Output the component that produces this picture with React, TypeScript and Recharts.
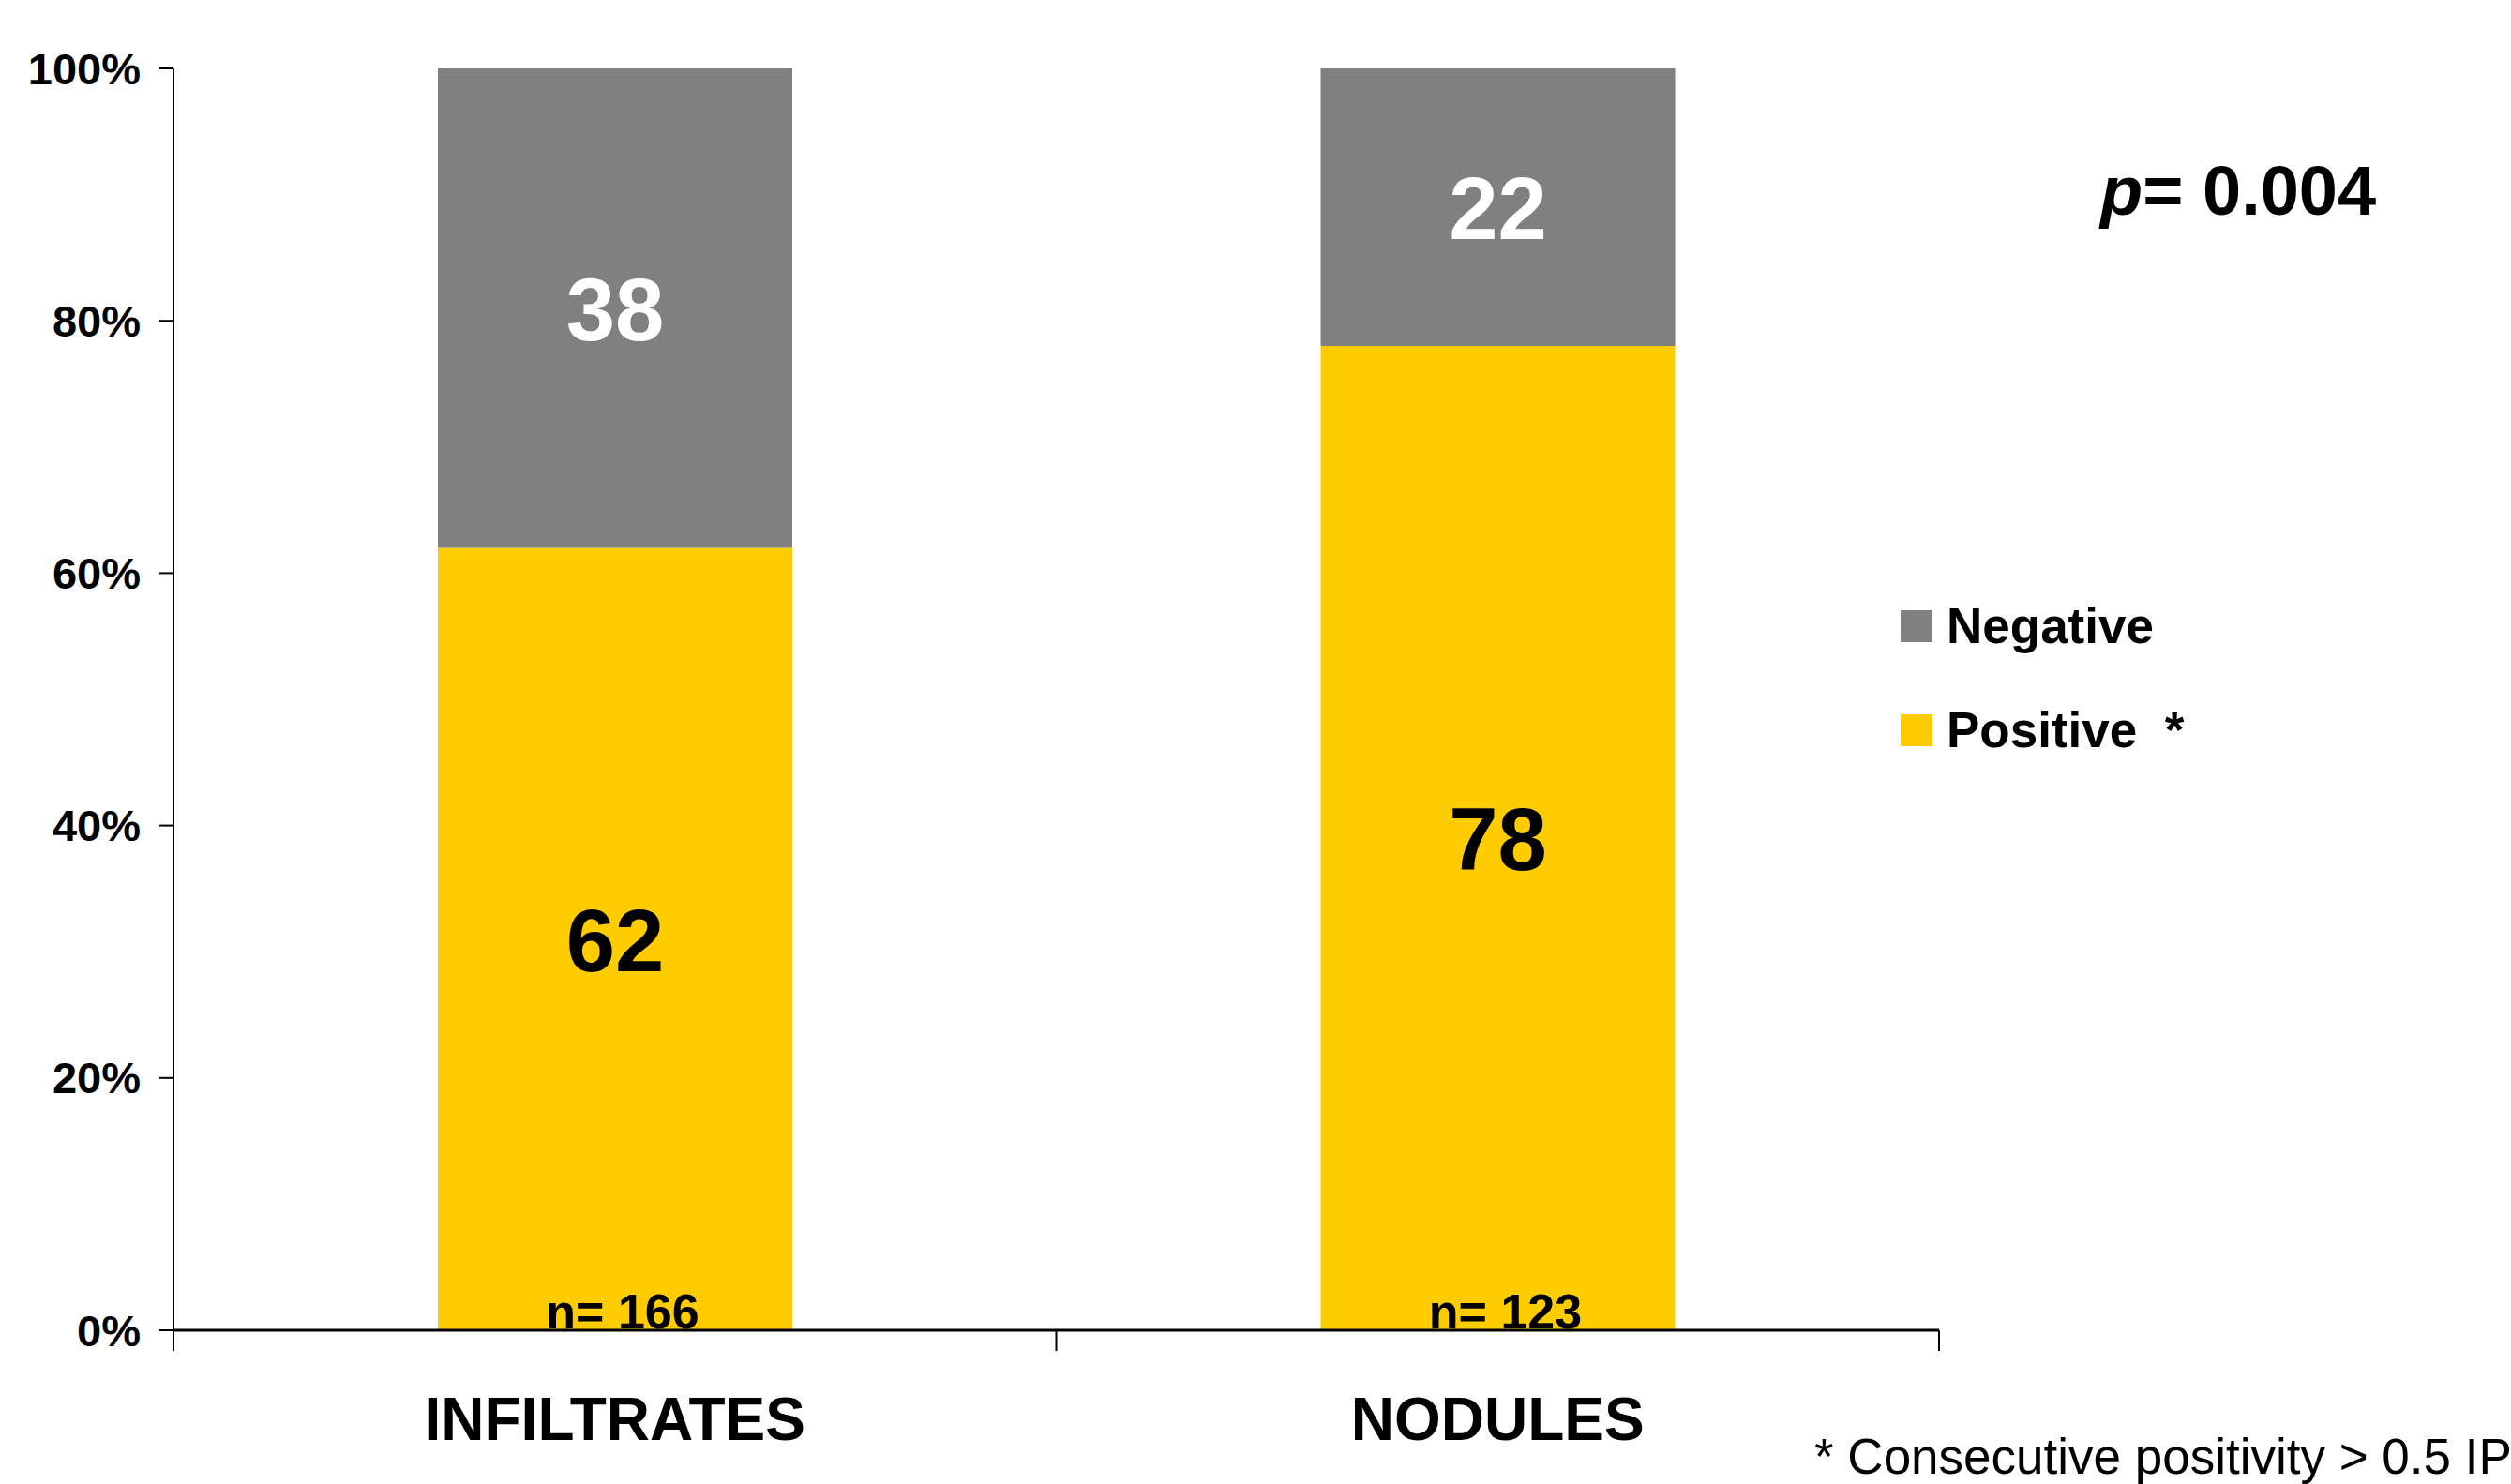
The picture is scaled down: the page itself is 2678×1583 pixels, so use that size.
import React from 'react';
import { BarChart, Bar, XAxis, YAxis, Legend, LabelList } from 'recharts';

const categories = ['INFILTRATES', 'NODULES'];
const positive = [62, 78];
const negative = [38, 22];
const sampleSizes = [166, 123];
const yTicks = [0, 20, 40, 60, 80, 100];

const data = categories.map((name, i) => ({
  name,
  positive: positive[i],
  negative: negative[i],
  n: sampleSizes[i],
}));

const FONT = '"Liberation Sans", Arial, Helvetica, sans-serif';
const GREY = '#808080';
const YELLOW = '#FFCC00';

// category label plus the tick marks on the band edges
const CategoryTick = (props: any) => {
  const { x, y, payload, index, width, visibleTicksCount } = props;
  const count = visibleTicksCount || categories.length;
  const band = (typeof width === 'number' && width > 0 ? width : 1883) / count;
  const left = x - band / 2;
  return (
    <g>
      <line x1={left} y1={y} x2={left} y2={y + 22} stroke="#000" strokeWidth={2} />
      {index === count - 1 && (
        <line x1={left + band} y1={y} x2={left + band} y2={y + 22} stroke="#000" strokeWidth={2} />
      )}
      <text
        x={x}
        y={y + 117}
        textAnchor="middle"
        fontFamily={FONT}
        fontWeight="bold"
        fontSize={64}
        fill="#000"
      >
        {payload.value}
      </text>
    </g>
  );
};

const centerLabel = (color: string) => (props: any) => {
  const { x, y, width, height, value } = props;
  return (
    <text
      x={x + width / 2}
      y={y + height / 2}
      dy="0.36em"
      textAnchor="middle"
      fontFamily={FONT}
      fontWeight="bold"
      fontSize={94}
      fill={color}
    >
      {value}
    </text>
  );
};

const countLabel = (props: any) => {
  const { x, y, width, height, value } = props;
  return (
    <text
      x={x + width / 2 + 8}
      y={y + height - 2}
      textAnchor="middle"
      fontFamily={FONT}
      fontWeight="bold"
      fontSize={52}
      fill="#000"
    >
      {`n= ${value}`}
    </text>
  );
};

const LegendContent = (props: any) => {
  const items = [...(props.payload || [])].sort((a: any) => (a.value === 'Negative' ? -1 : 1));
  return (
    <div style={{ fontFamily: FONT }}>
      {items.map((entry: any) => (
        <div
          key={entry.value}
          style={{ display: 'flex', alignItems: 'center', height: 34, marginBottom: 77 }}
        >
          <span style={{ display: 'inline-block', width: 34, height: 34, background: entry.color }} />
          <span
            style={{
              marginLeft: 15,
              fontSize: 53,
              fontWeight: 'bold',
              lineHeight: '34px',
              color: '#000',
              whiteSpace: 'pre',
            }}
          >
            {entry.value}
          </span>
        </div>
      ))}
    </div>
  );
};

export default function App() {
  return (
    <div
      style={{
        position: 'absolute',
        left: 0,
        top: 0,
        width: 2678,
        height: 1583,
        background: '#fff',
        overflow: 'hidden',
        fontFamily: FONT,
      }}
    >
      <BarChart
        width={2678}
        height={1583}
        data={data}
        margin={{ top: 73, right: 610, left: 0, bottom: 0 }}
        barSize={378}
      >
        <XAxis
          dataKey="name"
          height={164}
          interval={0}
          axisLine={{ stroke: '#000', strokeWidth: 3 }}
          tickLine={false}
          tickSize={0}
          tickMargin={0}
          tick={<CategoryTick />}
        />
        <YAxis
          width={185}
          domain={[0, 100]}
          ticks={yTicks}
          interval={0}
          tickFormatter={(v) => `${v}%`}
          axisLine={{ stroke: '#000', strokeWidth: 2 }}
          tickLine={{ stroke: '#000', strokeWidth: 2 }}
          tickSize={15}
          tickMargin={20}
          tick={{ fill: '#000', fontSize: 47, fontWeight: 'bold', fontFamily: FONT }}
        />
        <Legend
          layout="vertical"
          align="center"
          verticalAlign="middle"
          content={<LegendContent />}
          wrapperStyle={{ position: 'absolute', left: 2027, top: 651, width: 500 }}
        />
        <Bar dataKey="positive" name="Positive  *" stackId="a" fill={YELLOW} isAnimationActive={false}>
          <LabelList dataKey="positive" content={centerLabel('#000')} />
          <LabelList dataKey="n" content={countLabel} />
        </Bar>
        <Bar dataKey="negative" name="Negative" stackId="a" fill={GREY} isAnimationActive={false}>
          <LabelList dataKey="negative" content={centerLabel('#fff')} />
        </Bar>
      </BarChart>

      <div
        style={{
          position: 'absolute',
          left: 2240,
          top: 167,
          fontSize: 74,
          lineHeight: '74px',
          fontWeight: 'bold',
          color: '#000',
          whiteSpace: 'nowrap',
        }}
      >
        <i>p</i>= 0.004
      </div>

      <div
        style={{
          position: 'absolute',
          left: 1935,
          top: 1527,
          fontSize: 53,
          lineHeight: '53px',
          color: '#000',
          whiteSpace: 'nowrap',
        }}
      >
        * Consecutive positivity &gt; 0.5 IP
      </div>
    </div>
  );
}
